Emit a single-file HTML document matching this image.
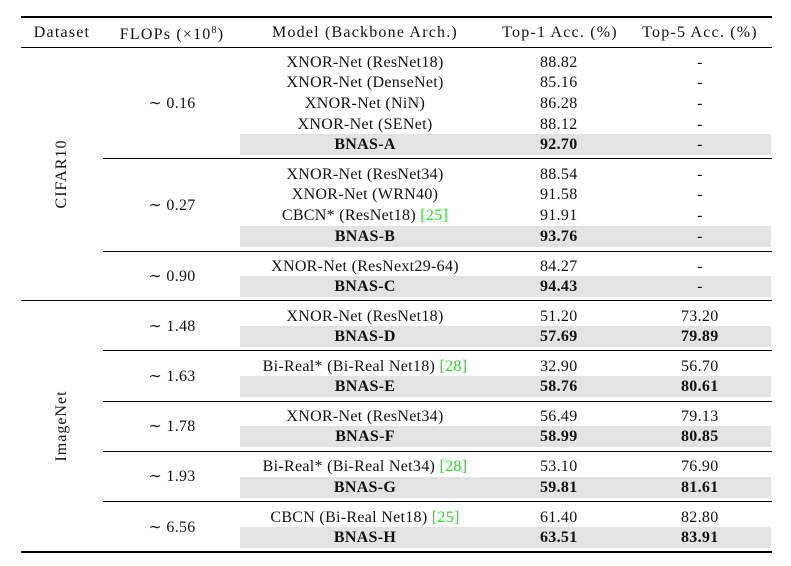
<!DOCTYPE html>
<html><head><meta charset="utf-8"><style>
body{margin:0;width:791px;height:566px;background:#fff;position:relative;overflow:hidden;font-family:"Liberation Serif","DejaVu Serif",serif;font-size:16px;letter-spacing:0.3px;color:#111}
.r{position:absolute;background:#000;left:21px;width:751px}
.sh{position:absolute;background:#e3e3e3;left:240px;width:531px;height:21px}
.t{position:absolute;white-space:nowrap;line-height:20px;transform:translateY(-50%)}
.c{transform:translate(-50%,-50%)}
.b{font-weight:bold}
.g{color:#22dd22}
.h{letter-spacing:1.2px}
.rot{position:absolute;transform:translate(-50%,-50%) rotate(-90deg);white-space:nowrap;letter-spacing:1px}
</style></head><body>
<div class="r" style="top:16px;height:2px"></div>
<div class="r" style="top:47px;height:1px"></div>
<div class="r" style="top:300px;height:1px"></div>
<div class="r" style="top:551px;height:2px"></div>
<div class="t c h" style="left:62px;top:33px">Dataset</div>
<div class="t c h" style="left:172px;top:33px">FLOPs (×10<sup style="font-size:10px">8</sup>)</div>
<div class="t c h" style="left:365px;top:33px">Model (Backbone Arch.)</div>
<div class="t c h" style="left:560px;top:33px">Top-1 Acc. (%)</div>
<div class="t c h" style="left:700px;top:33px">Top-5 Acc. (%)</div>
<div class="rot" style="left:62px;top:174px">CIFAR10</div>
<div class="rot" style="left:62px;top:426px">ImageNet</div>
<div id="tbl"></div>
<script>
const models=["XNOR-Net (ResNet18)","XNOR-Net (DenseNet)","XNOR-Net (NiN)","XNOR-Net (SENet)","BNAS-A","XNOR-Net (ResNet34)","XNOR-Net (WRN40)","CBCN* (ResNet18) <span class='g'>[25]</span>","BNAS-B","XNOR-Net (ResNext29-64)","BNAS-C","XNOR-Net (ResNet18)","BNAS-D","Bi-Real* (Bi-Real Net18) <span class='g'>[28]</span>","BNAS-E","XNOR-Net (ResNet34)","BNAS-F","Bi-Real* (Bi-Real Net34) <span class='g'>[28]</span>","BNAS-G","CBCN (Bi-Real Net18) <span class='g'>[25]</span>","BNAS-H"];
const top1=["88.82","85.16","86.28","88.12","92.70","88.54","91.58","91.91","93.76","84.27","94.43","51.20","57.69","32.90","58.76","56.49","58.99","53.10","59.81","61.40","63.51"];
const top5=["-","-","-","-","-","-","-","-","-","-","-","73.20","79.89","56.70","80.61","79.13","80.85","76.90","81.61","82.80","83.91"];
const rowY=[62,82,103,124,144,174,194,215,236,266,286,316,336,366,386,416,436,466,487,517,537];
const flops=["~ 0.16","~ 0.27","~ 0.90","~ 1.48","~ 1.63","~ 1.78","~ 1.93","~ 6.56"];
const flopsY=[103,205,276,326,376,426,476,527];
const seps=[[158,103],[251,103],[350,103],[401,103],[451,103],[501,103]];
const tb=document.getElementById('tbl');
function add(html,cls,style,name){const d=document.createElement('div');d.className=cls;d.setAttribute('style',style);d.innerHTML=html;


tb.appendChild(d);return d;}
seps.forEach((s,i)=>{add('','r','top:'+s[0]+'px;left:'+s[1]+'px;width:'+(772-s[1])+'px;height:1px','group-separator-'+i);});
models.forEach((m,i)=>{const bold=m.startsWith('BNAS');const y=rowY[i]+1;
if(bold)add('','sh','top:'+(y-11)+'px','shaded-row-'+i);
add(m,'t c'+(bold?' b':''),'left:365px;top:'+y+'px','model-'+i);
add(top1[i],'t'+(bold?' b':''),'left:540px;top:'+y+'px','top1-'+i);
if(top5[i]==='-')add('-','t c','left:700px;top:'+y+'px','top5-'+i);
else add(top5[i],'t'+(bold?' b':''),'left:681px;top:'+y+'px','top5-'+i);});
flops.forEach((f,i)=>{add(f.replace('~','∼'),'t c','left:172px;top:'+(flopsY[i]+1)+'px','flops-'+i);});
</script>
</body></html>
